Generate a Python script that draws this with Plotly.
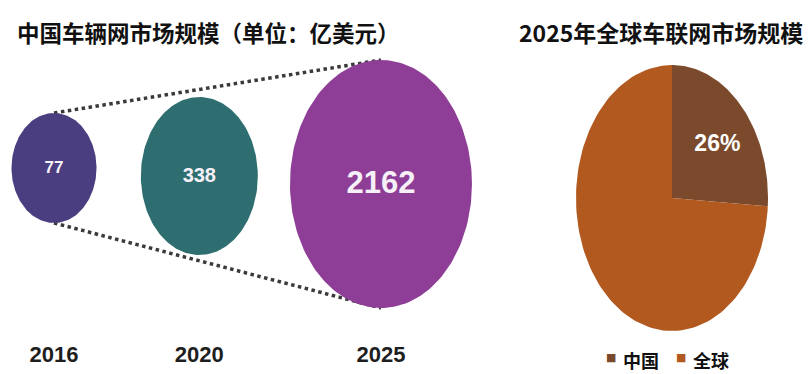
import numpy as np
import plotly.graph_objects as go

# ---------------- data ----------------
years = [2016, 2020, 2025]
year_labels = ["2016", "2020", "2025"]
market_values = [77, 338, 2162]          # 亿美元
pie_labels = ["中国", "全球"]
pie_shares = [26, 74]                     # %

left_title = "中国车辆网市场规模（单位：亿美元）"
right_title = "2025年全球车联网市场规模"

# ---------------- style ----------------
W, H = 810, 374
PX_PER_YEAR = 36.33
X0_PX = 54.0
bubble_rx_px = [42.5, 58.5, 91]
bubble_ry = [55, 79, 124]
bubble_cy = [168, 176, 184]
bubble_colors = ["#4a3e80", "#2e6e70", "#8e3e96"]
value_font_sizes = [17, 20, 31]
pie_colors = ["#7b4a2c", "#b2591f"]
PIE_CX, PIE_CY, PIE_RX, PIE_RY = 672, 198, 96, 133

CJK = "Noto Sans CJK SC, Noto Sans, sans-serif"
NUM = "Liberation Sans, Arial, sans-serif"

fig = go.Figure()

# dotted connectors (behind bubbles)
for sign in (-1, 1):
    fig.add_trace(go.Scatter(
        x=[years[0], years[-1]],
        y=[bubble_cy[0] + sign * bubble_ry[0], bubble_cy[-1] + sign * bubble_ry[-1]],
        mode="lines", line=dict(color="#3a3a3a", width=3.5, dash="dot"),
        hoverinfo="skip", showlegend=False, xaxis="x", yaxis="y"))

# bubbles
t = np.linspace(0, 2 * np.pi, 181)
for yr, v, rx, ry, cy, col, fs in zip(years, market_values, bubble_rx_px, bubble_ry,
                                       bubble_cy, bubble_colors, value_font_sizes):
    fig.add_trace(go.Scatter(
        x=yr + rx / PX_PER_YEAR * np.cos(t), y=cy + ry * np.sin(t),
        mode="lines", fill="toself", fillcolor=col, line=dict(width=0, color=col),
        hoverinfo="skip", showlegend=False, xaxis="x", yaxis="y"))
    fig.add_trace(go.Scatter(
        x=[yr], y=[cy + 1], mode="text", text=[str(v)],
        textfont=dict(family=NUM, size=fs, color="#f6f0f8", weight="bold"),
        hoverinfo="skip", showlegend=False, xaxis="x", yaxis="y"))

# year labels
fig.add_trace(go.Scatter(
    x=years, y=[356] * len(years), mode="text", text=year_labels,
    textfont=dict(family=NUM, size=22, color="#1e1e1e", weight="bold"),
    hoverinfo="skip", showlegend=False, xaxis="x", yaxis="y"))

# elliptical pie (clockwise from 12 o'clock)
total = sum(pie_shares)
start = 0.0
for lab, share, col in zip(pie_labels, pie_shares, pie_colors):
    a0 = 2 * np.pi * start / total
    a1 = 2 * np.pi * (start + share) / total
    th = np.linspace(a0, a1, 120)
    px = np.concatenate([[PIE_CX], PIE_CX + PIE_RX * np.sin(th), [PIE_CX]])
    py = np.concatenate([[PIE_CY], PIE_CY - PIE_RY * np.cos(th), [PIE_CY]])
    fig.add_trace(go.Scatter(
        x=px, y=py, mode="lines", fill="toself", fillcolor=col,
        line=dict(width=0, color=col), name=lab,
        hoverinfo="skip", showlegend=False, xaxis="x2", yaxis="y"))
    start += share

# label for China slice
mid = 2 * np.pi * (pie_shares[0] / 2) / total
fig.add_trace(go.Scatter(
    x=[PIE_CX + 0.62 * PIE_RX * np.sin(mid) + 2],
    y=[PIE_CY - 0.62 * PIE_RY * np.cos(mid) + 4],
    mode="text", text=[f"{pie_shares[0]}%"],
    textfont=dict(family=NUM, size=23, color="#ffffff", weight="bold"),
    hoverinfo="skip", showlegend=False, xaxis="x2", yaxis="y"))

annotations = [
    dict(text=left_title, x=15, y=32, xref="x2", yref="y", showarrow=False, xanchor="left",
         font=dict(family=CJK, size=22.5, color="#111111", weight="bold")),
    dict(text=right_title, x=805, y=32, xref="x2", yref="y", showarrow=False, xanchor="right",
         font=dict(family=CJK, size=23, color="#111111", weight="bold")),
]
leg_x = [610.5, 681]
for lab, col, lx in zip(pie_labels, pie_colors, leg_x):
    annotations.append(dict(text="■", x=lx, y=357, xref="x2", yref="y", showarrow=False,
                            font=dict(family="DejaVu Sans", size=11, color=col)))
    annotations.append(dict(text=lab, x=lx + 10, y=360, xref="x2", yref="y", showarrow=False,
                            xanchor="left",
                            font=dict(family=CJK, size=18, color="#111111", weight="bold")))

fig.update_layout(
    width=W, height=H, margin=dict(l=0, r=0, t=0, b=0),
    paper_bgcolor="white", plot_bgcolor="white",
    xaxis=dict(range=[years[0] - X0_PX / PX_PER_YEAR, years[0] + (W - X0_PX) / PX_PER_YEAR],
               domain=[0, 1], visible=False, fixedrange=True),
    xaxis2=dict(range=[0, W], domain=[0, 1], overlaying="x", visible=False, fixedrange=True),
    yaxis=dict(range=[H, 0], domain=[0, 1], visible=False, fixedrange=True),
    annotations=annotations,
    showlegend=False,
)

fig.write_html("out.html")
